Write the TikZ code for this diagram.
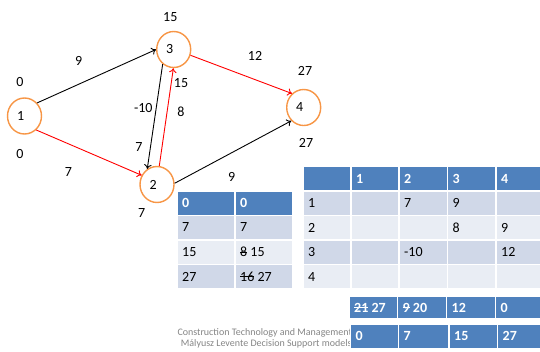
\documentclass[tikz,border=0pt]{standalone}
\usepackage{fontspec}
\setmainfont{Carlito}
\usetikzlibrary{shapes.geometric,arrows.meta}
\definecolor{hdr}{HTML}{4F81BD}
\definecolor{bandA}{HTML}{D0D8E8}
\definecolor{bandB}{HTML}{E9EDF4}
\definecolor{nodeor}{HTML}{F79646}
\definecolor{footgray}{HTML}{858585}
\newsavebox\strkbox
\newcommand{\strk}[1]{\sbox\strkbox{#1}\rlap{\rule[0.3em]{\wd\strkbox}{0.07em}}\usebox\strkbox}
\newcommand{\vtxt}[1]{\makebox[15pt][l]{#1}}
\newcommand{\hd}[1]{{\color{white}\bfseries #1}}
% name, x, y, w, h, fill, text
\newcommand{\tcell}[7]{%
  \node[cellbox, fill=#6, minimum width=#4pt, minimum height=#5pt] (#1) at (#2,#3) {};
  \node[celltext] (#1t) at ([xshift=6pt]#1.west) {#7};}
\begin{document}
\begin{tikzpicture}[x=1pt,y=-1pt,font=\fontsize{14}{16}\selectfont,
  vert/.style={ellipse, draw=nodeor, line width=1.4pt, minimum width=34pt,
    minimum height=36pt, inner sep=0pt, fill=white},
  lbl/.style={inner sep=0pt, anchor=center},
  blk/.style={-{To[length=4.5pt,width=7.5pt]}, line width=0.9pt, black},
  crit/.style={-{To[length=4.5pt,width=7.5pt]}, line width=0.9pt, red},
  cellbox/.style={draw=white, line width=1.5pt, anchor=north west, inner sep=0pt},
  celltext/.style={anchor=west, inner sep=0pt},
  foot/.style={font=\fontsize{10}{11}\selectfont, text=footgray, inner sep=0pt, anchor=west}]
\useasboundingbox (0,0) rectangle (540,351);

% graph nodes
\node[vert] (n1) at (24.5,116) {\vtxt{1}};
\node[vert] (n3) at (173.7,49.5) {\vtxt{3}};
\node[vert] (n2) at (157,184.5) {\vtxt{2}};
\node[vert] (n4) at (303.7,107.5) {\vtxt{4}};

% connectors
\draw[blk]  (n1.46)  -- (n3.180);
\draw[crit] (n1.-50) -- (n2.149);
\draw[crit] (n3.-19) -- (n4.130);
\draw[blk]  (n2.4)   -- (n4.227);
\draw[blk]  (n3.233) -- (n2.122);
\draw[crit] (n2.83)  -- (n3.269);

% labels
\node[lbl] (l3top) at (170.3,17.3) {15};
\node[lbl] (l13) at (78.7,61) {9};
\node[lbl] (l1top) at (20,81.7) {0};
\node[lbl] (l1bot) at (20,154) {0};
\node[lbl] (l12) at (68.3,171.7) {7};
\node[lbl] (l34) at (255,56) {12};
\node[lbl] (l4top) at (305,70.7) {27};
\node[lbl] (l23a) at (181,83.3) {15};
\node[lbl] (l32) at (143.3,108.3) {-10};
\node[lbl] (l23) at (181,111.7) {8};
\node[lbl] (l2top) at (139,146.7) {7};
\node[lbl] (l4bot) at (306,143.3) {27};
\node[lbl] (l24) at (231.7,177.3) {9};
\node[lbl] (l2bot) at (141.7,213.3) {7};

% left table
\tcell{a11}{176}{190}{58}{24.5}{hdr}{\hd{0}}
\tcell{a12}{234}{190}{58}{24.5}{hdr}{\hd{0}}
\tcell{a21}{176}{214.5}{58}{24.5}{bandA}{7}
\tcell{a22}{234}{214.5}{58}{24.5}{bandA}{7}
\tcell{a31}{176}{239}{58}{24.5}{bandB}{15}
\tcell{a32}{234}{239}{58}{24.5}{bandB}{\strk{8} 15}
\tcell{a41}{176}{263.5}{58}{24.5}{bandA}{27}
\tcell{a42}{234}{263.5}{58}{24.5}{bandA}{\strk{16} 27}

% big table
\tcell{b00}{302}{165.5}{48}{24.5}{hdr}{}
\tcell{b01}{350}{165.5}{48}{24.5}{hdr}{\hd{1}}
\tcell{b02}{398}{165.5}{48.5}{24.5}{hdr}{\hd{2}}
\tcell{b03}{446.5}{165.5}{48.5}{24.5}{hdr}{\hd{3}}
\tcell{b04}{495}{165.5}{48}{24.5}{hdr}{\hd{4}}
\tcell{b10}{302}{190}{48}{24.5}{bandA}{1}
\tcell{b11}{350}{190}{48}{24.5}{bandA}{}
\tcell{b12}{398}{190}{48.5}{24.5}{bandA}{7}
\tcell{b13}{446.5}{190}{48.5}{24.5}{bandA}{9}
\tcell{b14}{495}{190}{48}{24.5}{bandA}{}
\tcell{b20}{302}{214.5}{48}{24.5}{bandB}{2}
\tcell{b21}{350}{214.5}{48}{24.5}{bandB}{}
\tcell{b22}{398}{214.5}{48.5}{24.5}{bandB}{}
\tcell{b23}{446.5}{214.5}{48.5}{24.5}{bandB}{8}
\tcell{b24}{495}{214.5}{48}{24.5}{bandB}{9}
\tcell{b30}{302}{239}{48}{24.5}{bandA}{3}
\tcell{b31}{350}{239}{48}{24.5}{bandA}{}
\tcell{b32}{398}{239}{48.5}{24.5}{bandA}{-10}
\tcell{b33}{446.5}{239}{48.5}{24.5}{bandA}{}
\tcell{b34}{495}{239}{48}{24.5}{bandA}{12}
\tcell{b40}{302}{263.5}{48}{24.5}{bandB}{4}
\tcell{b41}{350}{263.5}{48}{24.5}{bandB}{}
\tcell{b42}{398}{263.5}{48.5}{24.5}{bandB}{}
\tcell{b43}{446.5}{263.5}{48.5}{24.5}{bandB}{}
\tcell{b44}{495}{263.5}{48}{24.5}{bandB}{}

% footer text
\node[foot] (f1) at (177.3,333) {Construction Technology and Management};
\node[foot] (f2) at (180.7,344) {Mályusz Levente Decision Support models};

% bottom rows
\tcell{c1}{348}{295.5}{48.5}{22.5}{hdr}{\hd{\strk{21} 27}}
\tcell{c2}{396.5}{295.5}{49}{22.5}{hdr}{\hd{\strk{9} 20}}
\tcell{c3}{445.5}{295.5}{49}{22.5}{hdr}{\hd{12}}
\tcell{c4}{494.5}{295.5}{48.5}{22.5}{hdr}{\hd{0}}
\tcell{d1}{349.5}{323.5}{48}{24}{hdr}{\hd{0}}
\tcell{d2}{397.5}{323.5}{50.5}{24}{hdr}{\hd{7}}
\tcell{d3}{448}{323.5}{48.5}{24}{hdr}{\hd{15}}
\tcell{d4}{496.5}{323.5}{48.5}{24}{hdr}{\hd{27}}
\end{tikzpicture}
\end{document}
